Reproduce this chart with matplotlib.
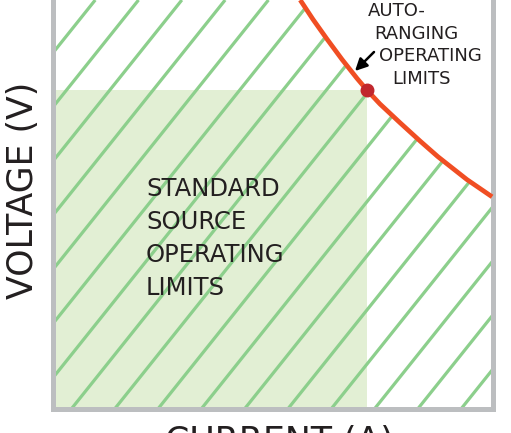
import numpy as np
import matplotlib
matplotlib.use('Agg')
import matplotlib.pyplot as plt
from matplotlib.patches import Polygon, Rectangle

# auto-ranging limit curve (current A, voltage V)
curve_i = [5.63, 5.92, 6.24, 6.58, 6.92, 7.15, 7.44, 7.90, 8.35, 8.76, 9.42, 9.99]
curve_v = [9.28, 8.84, 8.39, 7.93, 7.50, 7.23, 6.92, 6.49, 6.08, 5.72, 5.20, 4.81]

# standard source corner
std_i = 7.15
std_v = 7.23

i_max = 10.0
v_max = 9.28

standard_label = 'STANDARD\nSOURCE\nOPERATING\nLIMITS'
auto_lines = ['AUTO-', 'RANGING', 'OPERATING', 'LIMITS']
auto_x = [397, 416, 430, 421]   # centre of each line, px

W, H = 511, 433
fig = plt.figure(figsize=(W / 100, H / 100), dpi=100)
ax = fig.add_axes([52.5 / W, (H - 408.5) / H, 440 / W, 408.5 / H])
ax.set_xlim(0, i_max)
ax.set_ylim(0, v_max)
ax.set_xticks([])
ax.set_yticks([])

grey = '#bcbec0'
for side in ['left', 'right', 'bottom']:
    ax.spines[side].set_color(grey)
    ax.spines[side].set_linewidth(3.6)
ax.spines['top'].set_visible(False)

# light green box for the standard limits
ax.add_patch(Rectangle((0, 0), std_i, std_v, facecolor='#e2efd4',
                       edgecolor='none', zorder=1))

# region under the curve, used to clip the stripes
region = [(0, 0), (0, v_max)] + list(zip(curve_i, curve_v)) + [(i_max, 0)]
clip = Polygon(region, closed=True, facecolor='none', edgecolor='none',
               transform=ax.transData)
ax.add_patch(clip)

# diagonal stripes
slope = 1.25
step = 43.3 / 44
start = 0.436
offsets = start + step * np.arange(-8, 10)
for b in offsets:
    ln, = ax.plot([b, b + v_max / slope], [0, v_max], color='#8ccf8c',
                  lw=2.3, solid_capstyle='butt', zorder=2)
    ln.set_clip_path(clip)

# auto-ranging curve and corner dot
ax.plot(curve_i, curve_v, color='#f04e23', lw=3.4, solid_joinstyle='round',
        solid_capstyle='butt', zorder=3, clip_on=False)
ax.plot([std_i], [std_v], 'o', color='#c1272d', markersize=9, zorder=4)

txt = '#231f20'
fig.text(146 / W, 1 - 177 / H, standard_label, fontsize=17.5, color=txt,
         ha='left', va='top', linespacing=1.47)

for k, (line, cx) in enumerate(zip(auto_lines, auto_x)):
    fig.text(cx / W, 1 - (2 + 22.7 * k) / H, line, fontsize=13, color=txt,
             ha='center', va='top')

ax.annotate('', xy=(355, H - 71), xytext=(374, H - 52),
            xycoords='figure pixels', textcoords='figure pixels',
            arrowprops=dict(arrowstyle='-|>', color='black', lw=1.8,
                            mutation_scale=18, shrinkA=0, shrinkB=0))

fig.text(23 / W, 1 - 190 / H, 'VOLTAGE (V)', fontsize=25, color=txt,
         rotation=90, ha='center', va='center')
fig.text(279.5 / W, 1 - 425 / H, 'CURRENT (A)', fontsize=25, color=txt,
         ha='center', va='top')

fig.savefig('out.png', dpi=100)
